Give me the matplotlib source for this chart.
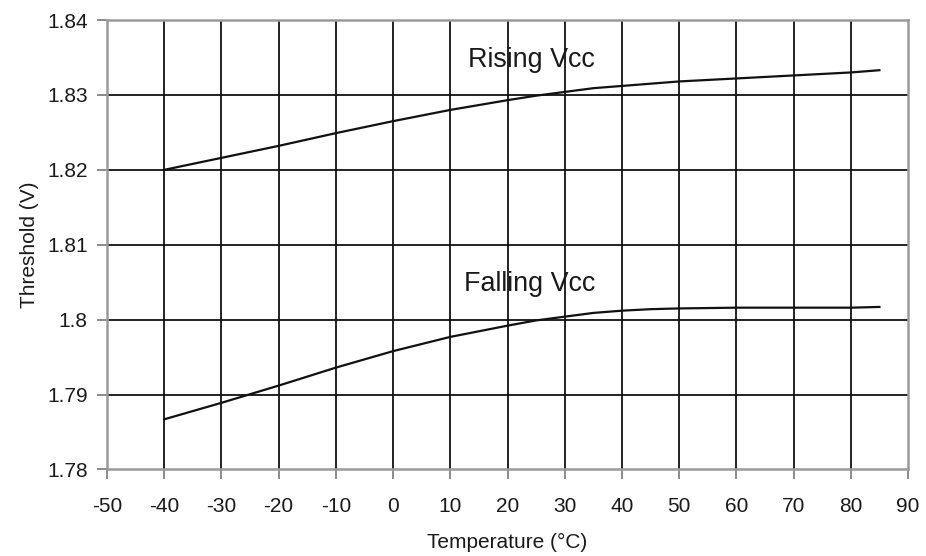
import matplotlib
matplotlib.use("Agg")
import matplotlib.pyplot as plt

plt.rcParams['font.family'] = ['Liberation Sans', 'DejaVu Sans']

temps = [-40, -30, -20, -10, 0, 10, 20, 25, 30, 35, 40, 45, 50, 60, 70, 80, 85]
rising = [1.8200, 1.8216, 1.8232, 1.8249, 1.8265, 1.8280, 1.8293, 1.8299, 1.8304,
          1.8309, 1.8312, 1.8315, 1.8318, 1.8322, 1.8326, 1.8330, 1.8333]
falling = [1.7867, 1.7889, 1.7912, 1.7936, 1.7958, 1.7977, 1.7992, 1.7999, 1.8004,
           1.8009, 1.8012, 1.8014, 1.8015, 1.8016, 1.8016, 1.8016, 1.8017]

xticks = list(range(-50, 91, 10))
yticks = [1.78, 1.79, 1.80, 1.81, 1.82, 1.83, 1.84]
ytick_labels = ['1.78', '1.79', '1.8', '1.81', '1.82', '1.83', '1.84']

fig = plt.figure(figsize=(9.26, 5.56), dpi=100)
ax = fig.add_axes([0.1156, 0.1556, 0.9806 - 0.1156, 0.964 - 0.1556])

ax.set_xlim(-50, 90)
ax.set_ylim(1.78, 1.84)

for x in xticks[1:-1]:
    ax.axvline(x, color='#111111', lw=1.3, zorder=1)
for y in yticks[1:-1]:
    ax.axhline(y, color='#111111', lw=1.3, zorder=1)

ax.plot(temps, rising, color='#111111', lw=1.6, zorder=3, solid_joinstyle='round')
ax.plot(temps, falling, color='#111111', lw=1.6, zorder=3, solid_joinstyle='round')

ax.text(13.1, 1.8346, 'Rising Vcc', fontsize=19.4, color='#1a1a1a', va='center', ha='left')
ax.text(12.4, 1.8047, 'Falling Vcc', fontsize=19.4, color='#1a1a1a', va='center', ha='left')

ax.set_xticks(xticks)
ax.set_xticklabels([str(v) for v in xticks])
ax.set_yticks(yticks)
ax.set_yticklabels(ytick_labels)

for s in ax.spines.values():
    s.set_color('#9a9a9a')
    s.set_linewidth(1.8)

ax.tick_params(axis='both', direction='out', length=7, width=1.2, color='#777777',
               labelsize=15, labelcolor='#1a1a1a')
ax.tick_params(axis='x', pad=13)
ax.tick_params(axis='y', pad=7)

ax.set_xlabel('Temperature (°C)', fontsize=15, color='#1a1a1a', labelpad=12)
ax.set_ylabel('Threshold (V)', fontsize=15, color='#1a1a1a', labelpad=6)

fig.savefig('out.png', dpi=100, facecolor='white')
